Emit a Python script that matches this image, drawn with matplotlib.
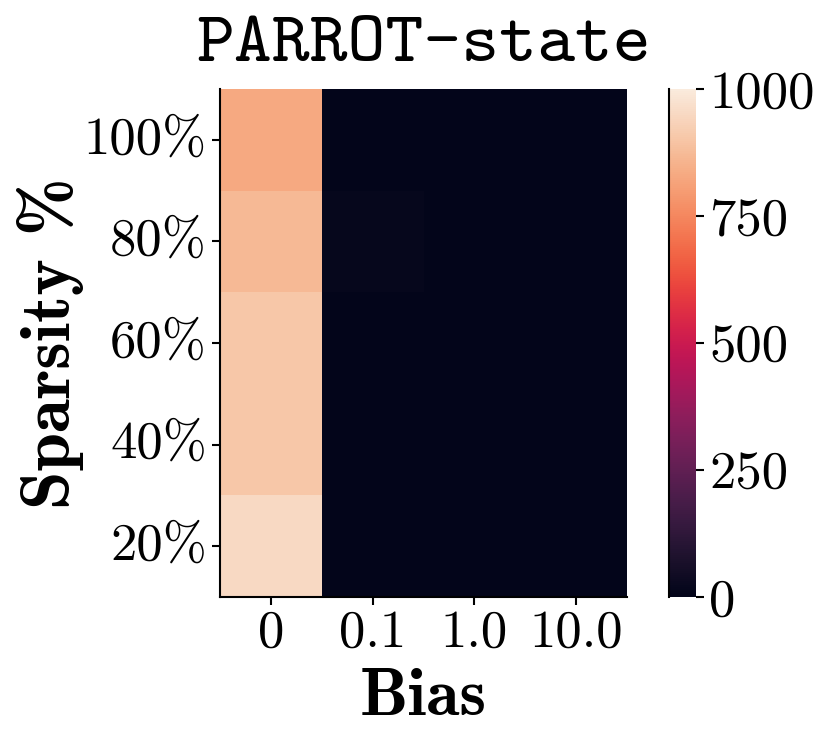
import numpy as np
import matplotlib
matplotlib.use("Agg")
import matplotlib.pyplot as plt
import seaborn as sns

# data
sparsity = ["100%", "80%", "60%", "40%", "20%"]
bias = ["0", "0.1", "1.0", "10.0"]
values = np.array([
    [830, 0, 0, 0],
    [870, 12, 0, 0],
    [905, 0, 0, 0],
    [905, 0, 0, 0],
    [950, 0, 0, 0],
])

plt.rcParams['font.family'] = 'cmr10'
plt.rcParams['axes.unicode_minus'] = False

fig = plt.figure(figsize=(8.31, 7.42), dpi=100)
ax = fig.add_axes([220 / 831, 1 - 597 / 742, 407 / 831, 508 / 742])
cax = fig.add_axes([669 / 831, 1 - 597 / 742, 27 / 831, 508 / 742])

sns.heatmap(values, ax=ax, cbar_ax=cax, cmap="rocket", vmin=0, vmax=1000,
            xticklabels=bias, yticklabels=sparsity)

ax.set_title("PARROT-state", fontfamily="cmtt10", fontsize=52, pad=20)
ax.set_xlabel("Bias", fontfamily="cmb10", fontsize=49, labelpad=8)
ax.set_ylabel("Sparsity %", fontfamily="cmb10", fontsize=50, labelpad=0)
ax.tick_params(labelsize=38, length=6, width=1.5, rotation=0)
for s in ["left", "bottom"]:
    ax.spines[s].set_visible(True)
    ax.spines[s].set_linewidth(1.5)

cax.set_yticks([0, 250, 500, 750, 1000])
cax.tick_params(labelsize=38, length=6, width=1.5)
cax.spines["left"].set_visible(True)
cax.spines["left"].set_linewidth(1.5)

fig.savefig("out.png", dpi=100)
